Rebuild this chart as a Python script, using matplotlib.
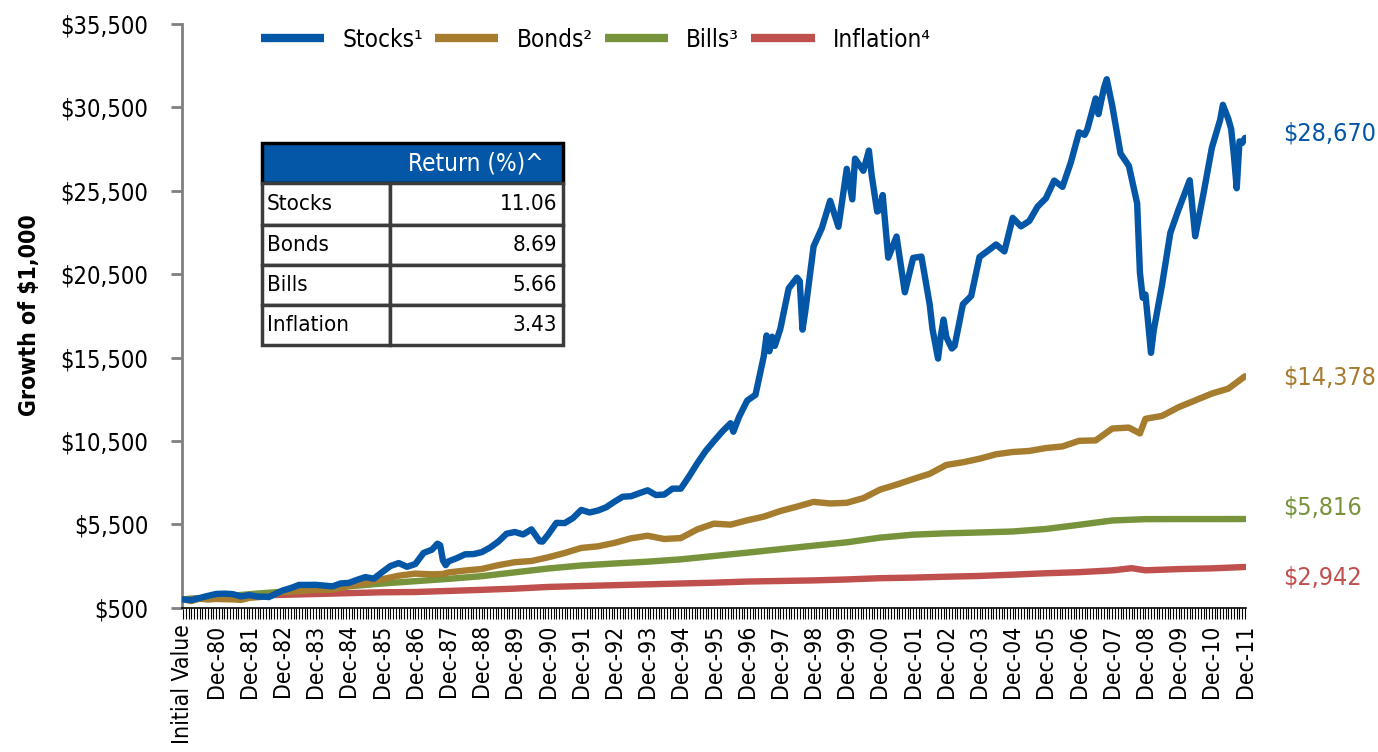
import matplotlib
matplotlib.use("Agg")
import matplotlib.pyplot as plt
from matplotlib.patches import Rectangle
from matplotlib.ticker import FixedLocator, FuncFormatter

plt.rcParams['font.family'] = ['DejaVu Sans']
plt.rcParams['font.stretch'] = 'condensed'

# month index: 0 = Initial Value (Dec-79), 12 = Dec-80, ... 384 = Dec-11
years = ["Dec-%02d" % (y % 100) for y in range(1980, 2012)]
tick_labels = ["Initial Value"] + years

stock_month = [0, 3, 6, 9, 12, 15, 18, 21, 24, 27, 30, 31, 33, 36, 39, 42, 45, 48,
               51, 54, 57, 60, 63, 66, 69, 72, 75, 78, 81, 84, 87, 90, 92, 93, 94, 95,
               96, 99, 102, 105, 108, 111, 114, 117, 120, 123, 126, 129, 130, 132,
               135, 138, 141, 144, 147, 150, 153, 156, 159, 162, 165, 168, 171, 174,
               177, 180, 183, 186, 189, 192, 195, 198, 199, 201, 204, 207, 210, 211,
               212, 213, 214, 216, 219, 222, 223, 224, 225, 228, 231, 234, 237, 240,
               242, 243, 246, 248, 249, 251, 252, 253, 255, 258, 261, 264, 267, 270,
               271, 273, 274, 275, 276, 278, 279, 282, 285, 288, 291, 294, 297, 300,
               303, 306, 309, 312, 315, 318, 321, 324, 326, 327, 330, 331, 333, 334,
               336, 339, 342, 345, 346, 347, 348, 350, 351, 354, 357, 360, 363, 364,
               366, 369, 372, 375, 376, 378, 379, 380, 381, 382, 383, 384]
stock_value = [1000, 958, 1086, 1208, 1324, 1344, 1314, 1178, 1259, 1167, 1158, 1136,
               1290, 1528, 1680, 1867, 1865, 1872, 1829, 1781, 1953, 1990, 2175, 2336,
               2242, 2631, 3000, 3177, 2954, 3118, 3786, 3976, 4336, 4242, 3327, 3051,
               3280, 3471, 3702, 3714, 3831, 4101, 4460, 4937, 5038, 4892, 5197, 4481,
               4463, 4877, 5587, 5573, 5872, 6364, 6209, 6324, 6522, 6854, 7154, 7184,
               7366, 7539, 7257, 7284, 7639, 7637, 8377, 9171, 9900, 10494, 11064,
               11562, 11052, 11918, 12918, 13265, 15578, 16824, 15876, 16748, 16198,
               17233, 19644, 20290, 20082, 17173, 18266, 22162, 23264, 24901, 23339,
               26816, 24985, 27424, 26699, 27910, 26446, 24253, 24376, 25244, 21490,
               22756, 19413, 21476, 21554, 18668, 17216, 15437, 16794, 17776, 16729,
               16041, 16198, 18695, 19195, 21531, 21899, 22281, 21862, 23878, 23364,
               23689, 24551, 25048, 26110, 25734, 27191, 29006, 28854, 29195, 31037,
               30095, 31669, 32188, 30601, 27730, 26995, 24744, 20593, 19090, 19279,
               15783, 17132, 19862, 22978, 24388, 25704, 26131, 22773, 25346, 28071,
               29751, 30654, 29787, 29193, 27583, 25649, 28462, 28368, 28670]

bond_month = [0, 3, 6, 9, 12, 15, 18, 21, 24, 30, 33, 36, 42, 48, 54, 60, 66, 72, 78,
              84, 90, 94, 96, 102, 108, 114, 120, 126, 132, 138, 144, 150, 156, 162,
              168, 174, 180, 186, 192, 198, 204, 210, 216, 222, 228, 234, 240, 246,
              252, 258, 264, 270, 276, 282, 288, 294, 300, 306, 312, 318, 324, 330,
              336, 342, 346, 348, 354, 360, 366, 372, 378, 384]
bond_value = [1000, 900, 1040, 990, 1027, 1010, 1000, 970, 1092, 1170, 1300, 1448,
              1490, 1569, 1580, 1806, 1980, 2205, 2420, 2543, 2500, 2520, 2614, 2730,
              2820, 3050, 3229, 3300, 3520, 3780, 4083, 4180, 4385, 4660, 4815, 4620,
              4675, 5200, 5540, 5480, 5740, 5960, 6297, 6560, 6845, 6750, 6790, 7070,
              7578, 7880, 8214, 8530, 9060, 9220, 9432, 9700, 9837, 9900, 10073,
              10170, 10507, 10530, 11242, 11300, 10950, 11827, 12000, 12525, 12930,
              13339, 13640, 14378]

bill_month = list(range(0, 385, 12))
bill_value = [1000, 1130, 1310, 1460, 1600, 1780, 1950, 2090, 2230, 2390, 2620, 2850,
              3030, 3150, 3260, 3400, 3600, 3800, 4010, 4220, 4420, 4700, 4880, 4960,
              5010, 5070, 5220, 5470, 5730, 5810, 5815, 5815, 5816]

infl_month = sorted(list(range(0, 348, 12)) + [343, 348, 360, 372, 384])
infl_value = [1000, 1125, 1226, 1272, 1321, 1373, 1425, 1441, 1505, 1571, 1644, 1744,
              1798, 1850, 1901, 1952, 2001, 2068, 2103, 2137, 2194, 2269, 2304, 2359,
              2403, 2481, 2566, 2631, 2738, 2868, 2741, 2816, 2858, 2942]

names = ["Stocks\u00b9", "Bonds\u00b2", "Bills\u00b3", "Inflation\u2074"]
colors = ["#0457A6", "#A67C2E", "#77933C", "#C0504D"]
end_labels = ["$28,670", "$14,378", "$5,816", "$2,942"]
end_label_y = [133, 378, 508, 578]

returns = ["11.06", "8.69", "5.66", "3.43"]
table_rows = ["Stocks", "Bonds", "Bills", "Inflation"]

W, H = 1378, 752
fig = plt.figure(figsize=(W / 100, H / 100), dpi=100)


def fx(px):
    return px / W


def fy(py):
    return 1 - py / H


ax = fig.add_axes([fx(181.6), fy(607.7), fx(1246.4) - fx(181.6), fy(24) - fy(607.7)])

series = [(stock_month, stock_value), (bond_month, bond_value),
          (bill_month, bill_value), (infl_month, infl_value)]
# inflation first so stocks sits on top
for k in [3, 2, 1, 0]:
    m, v = series[k]
    ax.plot(m, v, color=colors[k], lw=4.6, solid_capstyle='round',
            solid_joinstyle='round', label=names[k], zorder=3 + (3 - k))

ax.set_xlim(-0.5, 384.5)
ax.set_ylim(500, 35500)
ax.set_yticks(range(500, 35501, 5000))
ax.yaxis.set_major_formatter(FuncFormatter(lambda v, p: "${:,.0f}".format(v)))
ax.xaxis.set_major_locator(FixedLocator(range(0, 385, 12)))
ax.xaxis.set_minor_locator(FixedLocator(range(0, 385)))
ax.set_xticklabels(tick_labels, rotation=90, fontsize=16.5)
ax.tick_params(axis='y', labelsize=17, length=8, width=2, color='#808080', pad=16)
ax.tick_params(axis='x', which='both', length=8, width=0.8, color='black', pad=4)

for s in ['top', 'right']:
    ax.spines[s].set_visible(False)
ax.spines['left'].set_color('#808080')
ax.spines['left'].set_linewidth(2)
ax.spines['bottom'].set_color('black')
ax.spines['bottom'].set_linewidth(1.2)

fig.text(fx(30), fy(315), "Growth of $1,000", fontsize=16.5, fontweight='bold',
         rotation=90, ha='center', va='center')

# legend
h, l = ax.get_legend_handles_labels()
hd = {lab: hh for hh, lab in zip(h, l)}
leg = fig.legend([hd[n] for n in names], names, loc='center left',
                 bbox_to_anchor=(fx(239), fy(40)), ncol=4, frameon=False,
                 fontsize=17.5, handlelength=2.6, handletextpad=0.75,
                 columnspacing=0.5)
for line in leg.get_lines():
    line.set_linewidth(6)
    line.set_solid_capstyle('butt')

# end values
for k in range(4):
    fig.text(fx(1283), fy(end_label_y[k]), end_labels[k], color=colors[k],
             fontsize=18, ha='left', va='center')

# return table
tl, tr, cdiv = 262, 563, 390
row_edges = [143, 183, 225, 265, 305, 345]
fig.add_artist(Rectangle((fx(tl), fy(row_edges[1])), fx(tr) - fx(tl),
                         fy(row_edges[0]) - fy(row_edges[1]),
                         transform=fig.transFigure, facecolor='#0457A6',
                         edgecolor='black', lw=2.5, zorder=10))
fig.text(fx(476), fy(163), "Return (%)^", color='white', fontsize=17.5,
         ha='center', va='center', zorder=11)
for r in range(4):
    top, bot = row_edges[r + 1], row_edges[r + 2]
    for (a, b) in [(tl, cdiv), (cdiv, tr)]:
        fig.add_artist(Rectangle((fx(a), fy(bot)), fx(b) - fx(a), fy(top) - fy(bot),
                                 transform=fig.transFigure, facecolor='white',
                                 edgecolor='#3c3c3c', lw=2.5, zorder=10))
    yc = (top + bot) / 2
    fig.text(fx(267), fy(yc), table_rows[r], fontsize=16, ha='left', va='center',
             zorder=11)
    fig.text(fx(557), fy(yc), returns[r], fontsize=16, ha='right', va='center',
             zorder=11)

fig.savefig("out.png", dpi=100)
